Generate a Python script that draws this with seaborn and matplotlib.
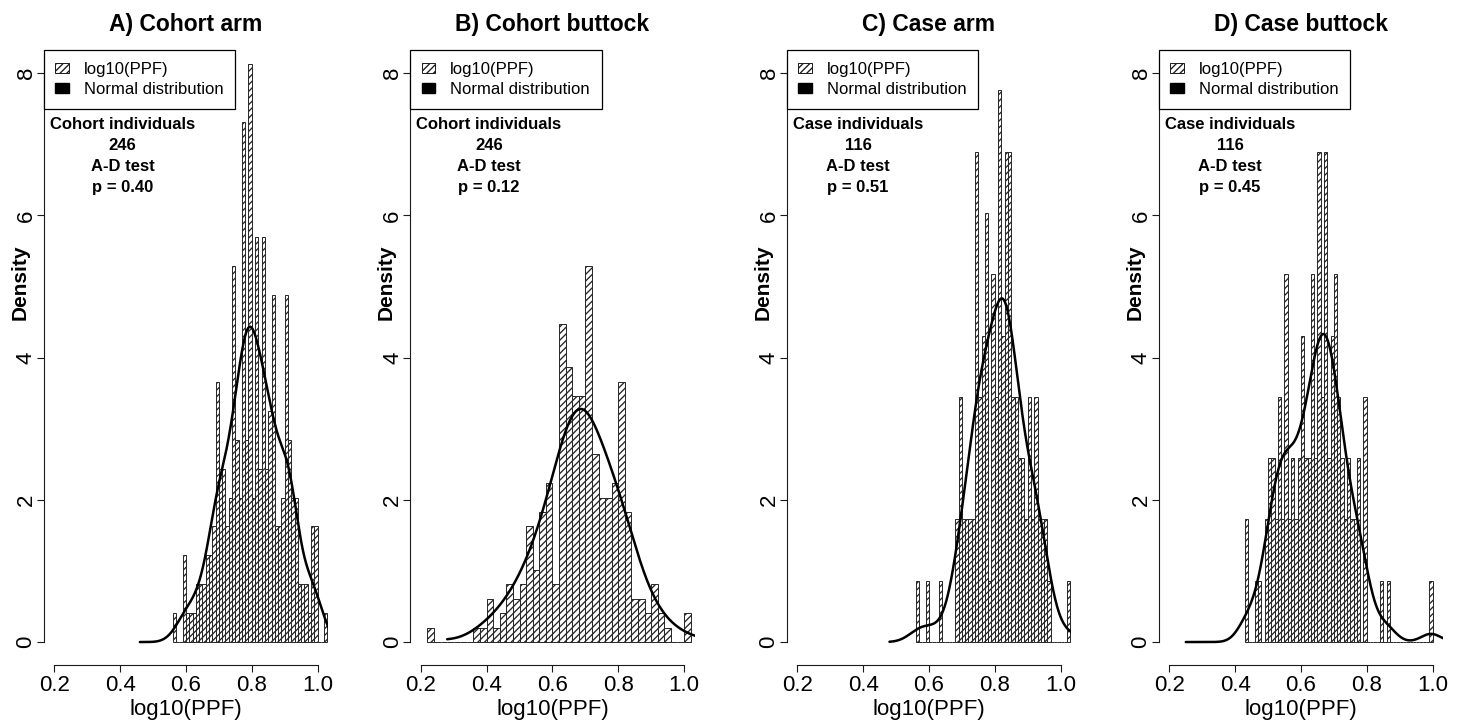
import numpy as np
import pandas as pd
import matplotlib
matplotlib.use("Agg")
import matplotlib.pyplot as plt
import seaborn as sns
from matplotlib.patches import Patch

# ---------------- data ----------------
titles = ["A) Cohort arm", "B) Cohort buttock", "C) Case arm", "D) Case buttock"]
groups = ["Cohort individuals", "Cohort individuals", "Case individuals", "Case individuals"]
n_individuals = ["246", "246", "116", "116"]
ad_p = ["0.40", "0.12", "0.51", "0.45"]

bin_start = [0.56, 0.22, 0.56, 0.43]
bin_width = [0.01, 0.02, 0.01, 0.01]

counts_a = [1, 0, 0, 3, 1, 1, 1, 2, 2, 2,
            3, 3, 4, 9, 6, 6, 4, 5, 13, 7,
            5, 18, 7, 20, 5, 14, 6, 14, 6, 8,
            12, 4, 4, 5, 12, 7, 5, 5, 2, 2,
            2, 1, 4, 4, 0, 0, 1]
counts_b = [1, 0, 0, 0, 0, 0, 0, 1, 1, 3,
            1, 2, 4, 3, 4, 8, 5, 9, 11, 4,
            22, 19, 17, 17, 26, 13, 10, 10, 11, 18,
            9, 3, 3, 2, 4, 2, 1, 0, 0, 2]
counts_c = [1, 0, 0, 1, 0, 0, 0, 1, 0, 0,
            0, 0, 2, 4, 2, 2, 2, 2, 8, 4,
            5, 7, 1, 6, 4, 9, 5, 8, 8, 4,
            4, 3, 3, 2, 4, 2, 4, 2, 2, 2,
            1, 0, 0, 0, 0, 0, 1]
counts_d = [2, 0, 0, 1, 1, 0, 2, 3, 3, 2,
            4, 2, 6, 2, 3, 2, 3, 5, 3, 3,
            6, 3, 8, 4, 8, 3, 5, 6, 4, 3,
            2, 3, 2, 2, 3, 0, 4, 0, 0, 0,
            0, 1, 0, 1, 0, 0, 0, 0, 0, 0,
            0, 0, 0, 0, 0, 0, 1]
all_counts = [counts_a, counts_b, counts_c, counts_d]

# x-extent over which the density curve is drawn in each panel, and its smoothing
kde_range = [(0.46, 1.06), (0.28, 1.06), (0.48, 1.06), (0.25, 1.06)]
kde_bw_scale = [1.0, 1.8, 1.25, 0.9]

xticks = [0.2, 0.4, 0.6, 0.8, 1.0]
xticklabels = ["0.2", "0.4", "0.6", "0.8", "1.0"]
yticks = [0, 2, 4, 6, 8]
legend_labels = ["log10(PPF)", "Normal distribution"]

# ---------------- style ----------------
sns.set_style("ticks")
plt.rcParams["font.family"] = ["Liberation Sans", "DejaVu Sans"]
plt.rcParams["hatch.linewidth"] = 0.95
for key in ["text.color", "axes.labelcolor", "xtick.color", "ytick.color"]:
    plt.rcParams[key] = "black"

W, H = 1465, 724
fig = plt.figure(figsize=(W / 100, H / 100), dpi=100)

panel_offset = [0, 366.5, 743, 1115]
ax_left, ax_w, ax_top, ax_bot = 43.8, 284.3, 50.4, 664.8

for i in range(4):
    off = panel_offset[i]
    ax = fig.add_axes([(ax_left + off) / W, 1 - ax_bot / H, ax_w / W, (ax_bot - ax_top) / H])
    counts = np.array(all_counts[i])
    edges = bin_start[i] + bin_width[i] * np.arange(len(counts) + 1)
    centers = (edges[:-1] + edges[1:]) / 2
    df = pd.DataFrame({"value": centers, "count": counts})

    sns.histplot(data=df, x="value", weights="count", bins=list(edges), stat="density", ax=ax,
                 color="white", edgecolor="0.15", linewidth=0.7, alpha=1)
    for p in ax.patches:
        p.set_hatch("/////")

    data = np.repeat(centers, counts)
    sd = data.std(ddof=1)
    iqr = np.subtract(*np.percentile(data, [75, 25]))
    bw = 0.9 * min(sd, iqr / 1.34) * len(data) ** (-0.2)
    sns.kdeplot(x=data, bw_method=bw / sd, bw_adjust=kde_bw_scale[i], cut=20, clip=kde_range[i],
                gridsize=500, color="black", linewidth=1.8, ax=ax)

    ax.set_xlim(0.168, 1.032)
    ax.set_ylim(-0.32, 8.32)
    for s in ["top", "right"]:
        ax.spines[s].set_visible(False)
    ax.spines["left"].set_bounds(0, 8)
    ax.spines["bottom"].set_bounds(0.2, 1.0)
    for s in ["left", "bottom"]:
        ax.spines[s].set_linewidth(0.8)
        ax.spines[s].set_color("0.1")
    ax.set_xticks(xticks)
    ax.set_xticklabels(xticklabels)
    ax.set_yticks(yticks)
    ax.tick_params(direction="out", length=4.7, width=0.8, labelsize=16, pad=2.5, colors="0.1",
                   labelcolor="black")
    ax.tick_params(axis="y", pad=0.5)
    plt.setp(ax.get_yticklabels(), rotation=90, va="center")

    ax.set_xlabel("log10(PPF)", fontsize=16, labelpad=2)
    ax.set_ylabel("Density", fontsize=15, fontweight="bold")
    ax.yaxis.set_label_coords((29.5 - ax_left) / ax_w, (ax_bot - 282) / (ax_bot - ax_top))
    ax.set_title(titles[i], fontsize=16.5, fontweight="bold", pad=14)

    handles = [Patch(facecolor="white", edgecolor="0.1", hatch="/////", linewidth=0.7),
               Patch(facecolor="black", edgecolor="black")]
    leg = ax.legend(handles=handles, labels=legend_labels, loc="upper left",
                    bbox_to_anchor=(0, 1), borderaxespad=0, frameon=True, fancybox=False,
                    edgecolor="black", framealpha=1, fontsize=12, handlelength=0.8,
                    handleheight=0.6, handletextpad=0.9, borderpad=0.7, labelspacing=0.3)
    leg.get_frame().set_linewidth(0.9)

    info = f"{groups[i]}\n{n_individuals[i]}\nA-D test\np = {ad_p[i]}"
    ax.text((50 - ax_left) / ax_w, (ax_bot - 117) / (ax_bot - ax_top), info,
            transform=ax.transAxes, ha="left", va="top", multialignment="center",
            fontsize=12, fontweight="bold", linespacing=1.5)

fig.savefig("out.png", dpi=100)
